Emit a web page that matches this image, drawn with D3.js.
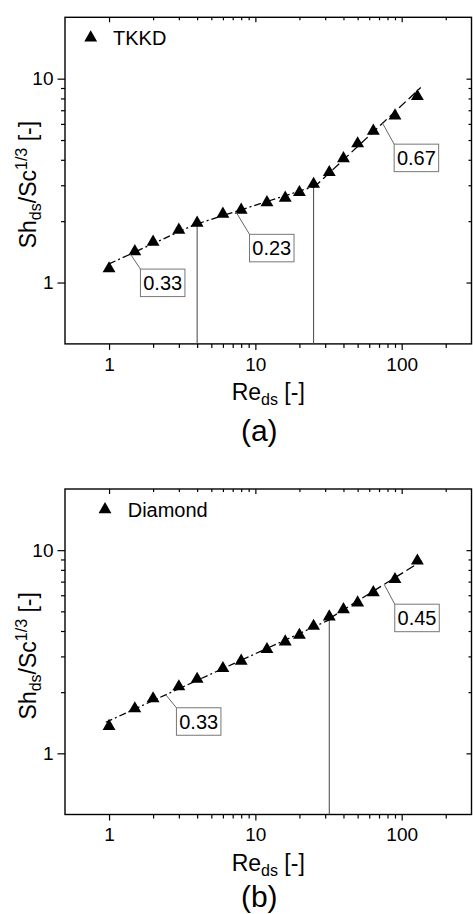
<!DOCTYPE html>
<html>
<head>
<meta charset="utf-8">
<script src="https://cdn.jsdelivr.net/npm/d3@7"></script>
<style>
  body { margin: 0; background: #fff; }
  svg { display: block; }
  text { font-family: "Liberation Sans", Arial, Helvetica, sans-serif; fill: #000; }
</style>
</head>
<body>
<svg id="chart" width="473" height="914"></svg>
<script>
// Reynolds numbers shared by both packings
const reynolds = [1, 1.5, 2, 3, 4, 6, 8, 12, 16, 20, 25, 32, 40, 50, 64, 90, 128];
// Sh_ds / Sc^(1/3)
const shTKKD    = [1.17, 1.42, 1.58, 1.81, 1.96, 2.17, 2.27, 2.47, 2.60, 2.77, 3.04, 3.47, 4.06, 4.80, 5.54, 6.58, 8.19];
const shDiamond = [1.36, 1.66, 1.86, 2.13, 2.32, 2.62, 2.85, 3.25, 3.54, 3.82, 4.23, 4.70, 5.11, 5.51, 6.19, 7.18, 8.86];

const xMajorTicks = [1, 10, 100];
const xMinorTicks = [2, 3, 4, 5, 6, 7, 8, 9, 20, 30, 40, 50, 60, 70, 80, 90, 200];
const yMajorTicks = [1, 10];
const yMinorTicks = [2, 3, 4, 5, 6, 7, 8, 9];

// Power-law regimes Sh/Sc^(1/3) = a * Re^b
const fitExponentsTKKD  = [0.33, 0.23, 0.67];
const fitPrefactorsTKKD = [1.234, 1.41, 0.338];
const fitRangesTKKD     = [[1, 4], [4, 25], [25, 135]];
const fitExponentsDiamond  = [0.33, 0.45];
const fitPrefactorsDiamond = [1.447, 0.967];
const fitRangesDiamond     = [[0.95, 32], [32, 137]];

// Regime transitions (Re) and where each exponent callout attaches (Re)
const transitionsTKKD = [4, 25];
const transitionsDiamond = [32];
const calloutReTKKD = [1.4, 7.34, 74];
const calloutReDiamond = [2.44, 75.9];

const X0 = 65, X1 = 471.5;
const BOX_W = 44.5, BOX_H = 27.5;

const panels = [
  {
    name: "TKKD", values: shTKKD, top: 17.3, bottom: 343.9, tag: "(a)", tagOffset: 97,
    exps: fitExponentsTKKD, pref: fitPrefactorsTKKD, ranges: fitRangesTKKD,
    dashes: ["7,3,2,3", "7,3,2,3", "9,4"],
    transitions: transitionsTKKD, calloutRe: calloutReTKKD,
    boxOffsets: [[10, 15], [13.8, 22.8], [11.6, 20.9]],
    legend: { sx: 25.7, tx: 48 }
  },
  {
    name: "Diamond", values: shDiamond, top: 489, bottom: 814.5, tag: "(b)", tagOffset: 92.5,
    exps: fitExponentsDiamond, pref: fitPrefactorsDiamond, ranges: fitRangesDiamond,
    dashes: ["7,3,2,3", "9,4"],
    transitions: transitionsDiamond, calloutRe: calloutReDiamond,
    boxOffsets: [[10.7, 13], [10.6, 19.8]],
    legend: { sx: 40, tx: 62.7 }
  }
];

const svg = d3.select("#chart");
const x = d3.scaleLog().domain([0.5, 300]).range([X0, X1]);
const tri = d3.symbol().type(d3.symbolTriangle).size(72);

function styleAxis(sel, fontSize) {
  sel.select(".domain").remove();
  sel.selectAll(".tick line").attr("stroke", "#000").attr("stroke-width", 1.2);
  sel.selectAll(".tick text").attr("font-size", fontSize).attr("fill", "#000")
    .style("font-family", "'Liberation Sans', Arial, sans-serif");
}

panels.forEach(p => {
  const y = d3.scaleLog().domain([0.5, 20]).range([p.bottom, p.top]);
  const g = svg.append("g");
  const H = p.bottom - p.top;

  // bottom axis: outward ticks with labels
  g.append("g").attr("transform", `translate(0,${p.bottom})`)
    .call(d3.axisBottom(x).tickValues(xMajorTicks).tickFormat(d3.format("d")).tickSize(6).tickSizeOuter(0).tickPadding(7.3))
    .call(s => styleAxis(s, 19));
  g.append("g").attr("transform", `translate(0,${p.bottom})`)
    .call(d3.axisBottom(x).tickValues(xMinorTicks).tickFormat("").tickSize(4).tickSizeOuter(0))
    .call(s => styleAxis(s, 19));
  // top axis: inward ticks
  g.append("g").attr("transform", `translate(0,${p.top})`)
    .call(d3.axisTop(x).tickValues(xMajorTicks).tickFormat("").tickSize(-5).tickSizeOuter(0))
    .call(s => styleAxis(s, 19));
  g.append("g").attr("transform", `translate(0,${p.top})`)
    .call(d3.axisTop(x).tickValues(xMinorTicks).tickFormat("").tickSize(-3).tickSizeOuter(0))
    .call(s => styleAxis(s, 19));
  // left axis: outward ticks with labels
  g.append("g").attr("transform", `translate(${X0},0)`)
    .call(d3.axisLeft(y).tickValues(yMajorTicks).tickFormat(d3.format("d")).tickSize(7.5).tickSizeOuter(0).tickPadding(4))
    .call(s => styleAxis(s, 19));
  g.append("g").attr("transform", `translate(${X0},0)`)
    .call(d3.axisLeft(y).tickValues(yMinorTicks).tickFormat("").tickSize(4).tickSizeOuter(0))
    .call(s => styleAxis(s, 19));
  // right axis: inward ticks
  g.append("g").attr("transform", `translate(${X1},0)`)
    .call(d3.axisRight(y).tickValues(yMajorTicks).tickFormat("").tickSize(-5).tickSizeOuter(0))
    .call(s => styleAxis(s, 19));
  g.append("g").attr("transform", `translate(${X1},0)`)
    .call(d3.axisRight(y).tickValues(yMinorTicks).tickFormat("").tickSize(-3).tickSizeOuter(0))
    .call(s => styleAxis(s, 19));

  // frame
  g.append("rect").attr("x", X0).attr("y", p.top).attr("width", X1 - X0).attr("height", H)
    .attr("fill", "none").attr("stroke", "#000").attr("stroke-width", 1.4);

  // regime transition markers
  p.transitions.forEach(re => {
    const v = p.values[reynolds.indexOf(re)];
    g.append("line").attr("x1", x(re)).attr("x2", x(re)).attr("y1", y(v)).attr("y2", p.bottom)
      .attr("stroke", "#444").attr("stroke-width", 1);
  });

  // power-law fits
  const fitLine = d3.line().x(d => x(d[0])).y(d => y(d[1]));
  p.exps.forEach((b, i) => {
    const a = p.pref[i];
    const pts = p.ranges[i].map(re => [re, a * Math.pow(re, b)]);
    g.append("path").attr("d", fitLine(pts)).attr("fill", "none")
      .attr("stroke", "#000").attr("stroke-width", 1.3).attr("stroke-dasharray", p.dashes[i]);
  });

  // data markers
  g.selectAll("path.pt").data(reynolds).join("path").attr("class", "pt")
    .attr("d", tri).attr("fill", "#000")
    .attr("transform", (re, i) => `translate(${x(re)},${y(p.values[i])})`);

  // exponent callouts
  p.exps.forEach((b, i) => {
    const re = p.calloutRe[i];
    const ax = x(re), ay = y(p.pref[i] * Math.pow(re, b));
    const bx = ax + p.boxOffsets[i][0], by = ay + p.boxOffsets[i][1];
    g.append("line").attr("x1", ax).attr("y1", ay).attr("x2", bx).attr("y2", by)
      .attr("stroke", "#666").attr("stroke-width", 1);
    g.append("rect").attr("x", bx).attr("y", by).attr("width", BOX_W).attr("height", BOX_H)
      .attr("fill", "#fff").attr("stroke", "#777").attr("stroke-width", 1);
    g.append("text").attr("x", bx + BOX_W / 2).attr("y", by + BOX_H / 2 + 7.2)
      .attr("text-anchor", "middle").attr("font-size", 20).text(d3.format(".2f")(b));
  });

  // legend
  g.append("path").attr("d", tri).attr("fill", "#000")
    .attr("transform", `translate(${X0 + p.legend.sx},${p.top + 20.5})`);
  g.append("text").attr("x", X0 + p.legend.tx).attr("y", p.top + 27.7)
    .attr("font-size", 20).text(p.name);

  // axis titles
  const xt = g.append("text").attr("x", (X0 + X1) / 2).attr("y", p.bottom + 56.2)
    .attr("text-anchor", "middle").attr("font-size", 23);
  xt.append("tspan").text("Re");
  xt.append("tspan").attr("font-size", 16).attr("dy", 5).text("ds");
  xt.append("tspan").attr("dy", -5).text(" [-]");

  const yt = g.append("text")
    .attr("transform", `translate(36,${(p.top + p.bottom) / 2 + 4}) rotate(-90)`)
    .attr("text-anchor", "middle").attr("font-size", 23);
  yt.append("tspan").text("Sh");
  yt.append("tspan").attr("font-size", 16).attr("dy", 5).text("ds");
  yt.append("tspan").attr("dy", -5).text("/Sc");
  yt.append("tspan").attr("font-size", 16).attr("dy", -9).text("1/3");
  yt.append("tspan").attr("dy", 9).text(" [-]");

  // panel tag
  g.append("text").attr("x", (X0 + X1) / 2 - 9).attr("y", p.bottom + p.tagOffset)
    .attr("text-anchor", "middle").attr("font-size", 30).text(p.tag);
});
</script>
</body>
</html>
